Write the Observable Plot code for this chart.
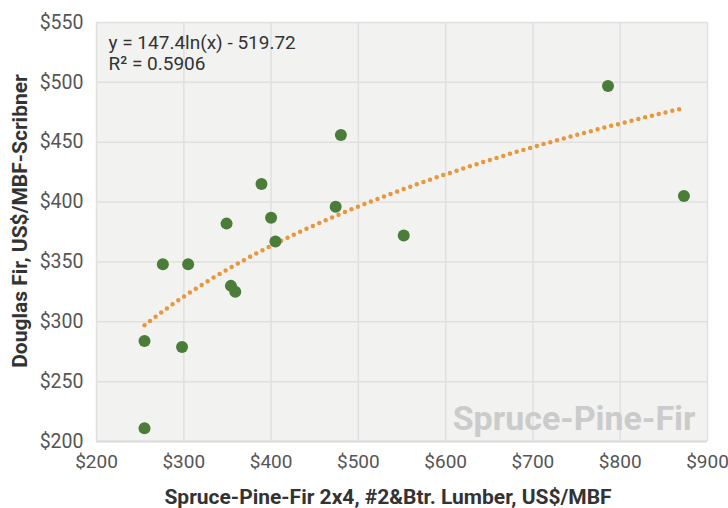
<!DOCTYPE html>
<html>
<head>
<meta charset="utf-8">
<script src="https://cdn.jsdelivr.net/npm/d3@7"></script>
<script src="https://cdn.jsdelivr.net/npm/@observablehq/plot@0.6"></script>
<style>
  html, body { margin: 0; padding: 0; background: #fff; }
</style>
</head>
<body>
<div id="chart"></div>
<script>
// Spruce-Pine-Fir 2x4 price (US$/MBF) vs Douglas Fir log price (US$/MBF-Scribner)
const spfPrice = [255, 255, 276, 298, 305, 349, 354, 359, 389, 400, 405, 474, 480, 552, 786, 873];
const dfPrice  = [211, 284, 348, 279, 348, 382, 330, 325, 415, 387, 367, 396, 456, 372, 497, 405];
// Logarithmic trendline as printed on the chart: y = a*ln(x) + b
const trendA = 147.4;
const trendB = -519.72;
const equationLines = ["y = 147.4ln(x) - 519.72", "R² = 0.5906"];
const xTicks = [200, 300, 400, 500, 600, 700, 800, 900];
const yTicks = [200, 250, 300, 350, 400, 450, 500, 550];
const xTitle = "Spruce-Pine-Fir 2x4, #2&Btr. Lumber, US$/MBF";
const yTitle = "Douglas Fir, US$/MBF-Scribner";
const watermark = "Spruce-Pine-Fir";

const points = spfPrice.map((x, i) => ({x, y: dfPrice[i]}));
const [x0, x1] = d3.extent(spfPrice);
const trend = d3.range(0, 201).map(i => {
  const x = x0 + (x1 - x0) * i / 200;
  return {x, y: trendA * Math.log(x) + trendB};
});
const money = d => "$" + d;

const chart = Plot.plot({
  width: 728,
  height: 508,
  marginLeft: 96,
  marginRight: 21,
  marginTop: 22,
  marginBottom: 67,
  style: {fontFamily: "Roboto, sans-serif", background: "#fff", overflow: "visible"},
  x: {domain: [200, 900]},
  y: {domain: [200, 550]},
  marks: [
    Plot.frame({fill: "#f2f2f0", stroke: null}),
    Plot.gridX(xTicks, {stroke: "#e0e0e0", strokeOpacity: 1, strokeWidth: 1.5}),
    Plot.gridY(yTicks, {stroke: "#e0e0e0", strokeOpacity: 1, strokeWidth: 1.5}),
    Plot.ruleY([200], {stroke: "#dcdcdc", strokeWidth: 2}),
    Plot.axisX(xTicks, {tickSize: 0, tickPadding: 13, tickFormat: money, fontSize: 19, fill: "#555", label: null}),
    Plot.axisY(yTicks, {tickSize: 0, tickPadding: 13, tickFormat: money, fontSize: 19.5, fill: "#555", label: null}),
    Plot.text([watermark], {frameAnchor: "bottom-right", dx: -12, dy: -12, lineAnchor: "bottom", fontSize: 34, fontWeight: "bold", fill: "#cbcbcb"}),
    Plot.text([equationLines.join("\n")], {frameAnchor: "top-left", dx: 12, dy: 11, lineAnchor: "top", textAnchor: "start", fontSize: 19, lineHeight: 1.12, fill: "#333"}),
    Plot.line(trend, {x: "x", y: "y", stroke: "#e9973d", strokeWidth: 4.5, strokeDasharray: "0 7", strokeLinecap: "round"}),
    Plot.dot(points, {x: "x", y: "y", r: 6, fill: "#4b7c3a", stroke: null}),
    Plot.text([xTitle], {frameAnchor: "bottom", dx: -14, dy: 56, lineAnchor: "middle", textAnchor: "middle", fontSize: 21, fontWeight: "bold", fill: "#333"}),
    Plot.text([yTitle], {frameAnchor: "left", rotate: -90, dx: -76, dy: -11, lineAnchor: "middle", textAnchor: "middle", fontSize: 21, fontWeight: "bold", fill: "#333"})
  ]
});
document.getElementById("chart").appendChild(chart);
</script>
</body>
</html>
